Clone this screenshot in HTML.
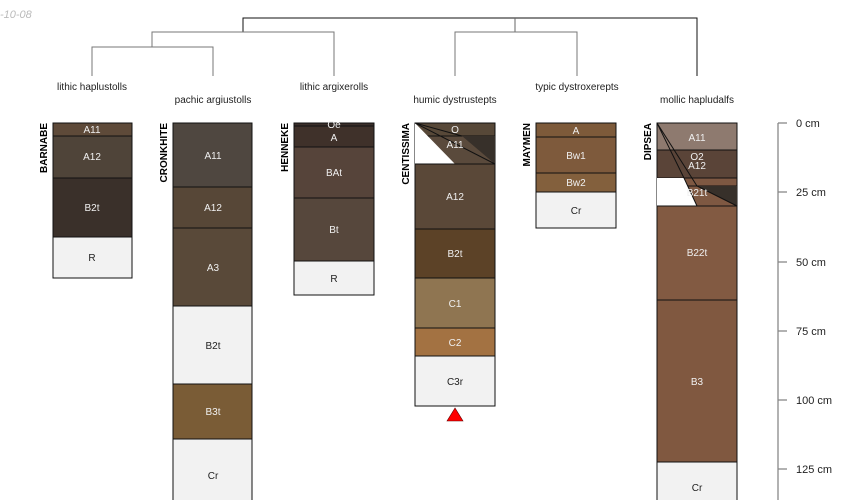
<!DOCTYPE html>
<html><head><meta charset="utf-8"><style>
html,body{margin:0;padding:0;background:#fff;}
svg{display:block;font-family:"Liberation Sans",sans-serif;}
.h{font-size:10px;text-anchor:middle;}
.w{fill:#f0f0f0}
.k{fill:#222}
.n{font-size:10px;font-weight:bold;text-anchor:end;fill:#000}
.t{font-size:10px;text-anchor:middle;fill:#222}
.a{font-size:11px;fill:#222}
rect{stroke:#111;stroke-width:1}
</style></head><body>
<svg width="850" height="500" viewBox="0 0 850 500" xmlns="http://www.w3.org/2000/svg">
<text x="0" y="18" font-size="11" font-style="italic" fill="#bbb">-10-08</text>
<g fill="none" stroke-width="1">
<path d="M243,32 V18 H697 V76" stroke="#111"/>
<path d="M515,18 V32" stroke="#666"/>
<path d="M152,47 V32 H334 V76" stroke="#777"/>
<path d="M455,76 V32 H577 V76" stroke="#777"/>
<path d="M92,76 V47 H213 V76" stroke="#777"/>
</g>
<text class="t" x="92" y="90">lithic haplustolls</text>
<text class="t" x="213" y="103">pachic argiustolls</text>
<text class="t" x="334" y="90">lithic argixerolls</text>
<text class="t" x="455" y="103">humic dystrustepts</text>
<text class="t" x="577" y="90">typic dystroxerepts</text>
<text class="t" x="697" y="103">mollic hapludalfs</text>

<text class="n" transform="translate(47,123) rotate(-90)">BARNABE</text>
<rect x="53" y="123" width="79" height="13" fill="#5e4a39"/>
<rect x="53" y="136" width="79" height="42" fill="#4f4439"/>
<rect x="53" y="178" width="79" height="59" fill="#3a302a"/>
<rect x="53" y="237" width="79" height="41" fill="#f2f2f2"/>
<text class="h w" x="92" y="133">A11</text>
<text class="h w" x="92" y="160">A12</text>
<text class="h w" x="92" y="211">B2t</text>
<text class="h k" x="92" y="261">R</text>

<text class="n" transform="translate(167,123) rotate(-90)">CRONKHITE</text>
<rect x="173" y="123" width="79" height="64" fill="#4f4740"/>
<rect x="173" y="187" width="79" height="41" fill="#574737"/>
<rect x="173" y="228" width="79" height="78" fill="#594939"/>
<rect x="173" y="306" width="79" height="78" fill="#f2f2f2"/>
<rect x="173" y="384" width="79" height="55" fill="#7a5c36"/>
<rect x="173" y="439" width="79" height="70" fill="#f2f2f2"/>
<text class="h w" x="213" y="159">A11</text>
<text class="h w" x="213" y="211">A12</text>
<text class="h w" x="213" y="271">A3</text>
<text class="h k" x="213" y="349">B2t</text>
<text class="h w" x="213" y="415">B3t</text>
<text class="h k" x="213" y="479">Cr</text>

<text class="n" transform="translate(288,123) rotate(-90)">HENNEKE</text>
<rect x="294" y="123" width="80" height="3" fill="#3b2f2a"/>
<rect x="294" y="126" width="80" height="21" fill="#3f312a"/>
<rect x="294" y="147" width="80" height="51" fill="#56443a"/>
<rect x="294" y="198" width="80" height="63" fill="#56473c"/>
<rect x="294" y="261" width="80" height="34" fill="#f2f2f2"/>
<text class="h w" x="334" y="128">Oe</text>
<text class="h w" x="334" y="141">A</text>
<text class="h w" x="334" y="176">BAt</text>
<text class="h w" x="334" y="233">Bt</text>
<text class="h k" x="334" y="282">R</text>

<text class="n" transform="translate(409,123) rotate(-90)">CENTISSIMA</text>
<rect x="415" y="123" width="80" height="13" fill="#574838"/>
<rect x="415" y="136" width="80" height="28" fill="#5a4a3c"/>
<polygon points="415,123 415,164 455,164" fill="#fff"/>
<polygon points="462,136 495,136 495,164" fill="#37302a"/>
<path d="M415,123 L495,164 M415,123 L462,136" stroke="#111" fill="none"/>
<rect x="415" y="164" width="80" height="65" fill="#5a4838"/>
<rect x="415" y="229" width="80" height="49" fill="#5c4227"/>
<rect x="415" y="278" width="80" height="50" fill="#8f7551"/>
<rect x="415" y="328" width="80" height="28" fill="#a37242"/>
<rect x="415" y="356" width="80" height="50" fill="#f2f2f2"/>
<text class="h w" x="455" y="133">O</text>
<text class="h w" x="455" y="148">A11</text>
<text class="h w" x="455" y="200">A12</text>
<text class="h w" x="455" y="257">B2t</text>
<text class="h w" x="455" y="307">C1</text>
<text class="h w" x="455" y="346">C2</text>
<text class="h k" x="455" y="385">C3r</text>
<polygon points="455,408 447,421 463,421" fill="#f00" stroke="#600" stroke-width="0.6"/>

<text class="n" transform="translate(530,123) rotate(-90)">MAYMEN</text>
<rect x="536" y="123" width="80" height="14" fill="#7d5a3a"/>
<rect x="536" y="137" width="80" height="36" fill="#7e5a3c"/>
<rect x="536" y="173" width="80" height="19" fill="#83603d"/>
<rect x="536" y="192" width="80" height="36" fill="#f2f2f2"/>
<text class="h w" x="576" y="134">A</text>
<text class="h w" x="576" y="159">Bw1</text>
<text class="h w" x="576" y="186">Bw2</text>
<text class="h k" x="576" y="214">Cr</text>

<text class="n" transform="translate(651,123) rotate(-90)">DIPSEA</text>
<rect x="657" y="123" width="80" height="27" fill="#8e7a6f"/>
<rect x="657" y="150" width="80" height="28" fill="#5a4438"/>
<rect x="657" y="178" width="80" height="8" fill="#7e5842"/>
<rect x="657" y="186" width="80" height="20" fill="#7e5842"/>
<polygon points="657,178 684,178 697,206 657,206" fill="#fff"/>
<polygon points="697,186 737,186 737,206" fill="#37302a"/>
<path d="M657,123 L697,186 L737,206 M657,123 L684,178 L697,206" stroke="#111" fill="none"/>
<rect x="657" y="206" width="80" height="94" fill="#825a42"/>
<rect x="657" y="300" width="80" height="162" fill="#805840"/>
<rect x="657" y="462" width="80" height="50" fill="#f2f2f2"/>
<text class="h w" x="697" y="141">A11</text>
<text class="h w" x="697" y="160">O2</text>
<text class="h w" x="697" y="169">A12</text>
<text class="h w" x="697" y="196" font-size="8">B21t</text>
<text class="h w" x="697" y="256" font-size="8">B22t</text>
<text class="h w" x="697" y="385">B3</text>
<text class="h k" x="697" y="491">Cr</text>

<g stroke="#888" stroke-width="1.3">
<line x1="778" y1="123" x2="778" y2="500"/>
<line x1="778" y1="123" x2="787" y2="123"/>
<line x1="778" y1="192" x2="787" y2="192"/>
<line x1="778" y1="262" x2="787" y2="262"/>
<line x1="778" y1="331" x2="787" y2="331"/>
<line x1="778" y1="400" x2="787" y2="400"/>
<line x1="778" y1="469" x2="787" y2="469"/>
</g>
<text class="a" x="796" y="127">0 cm</text>
<text class="a" x="796" y="196">25 cm</text>
<text class="a" x="796" y="266">50 cm</text>
<text class="a" x="796" y="335">75 cm</text>
<text class="a" x="796" y="404">100 cm</text>
<text class="a" x="796" y="473">125 cm</text>
</svg>
</body></html>
